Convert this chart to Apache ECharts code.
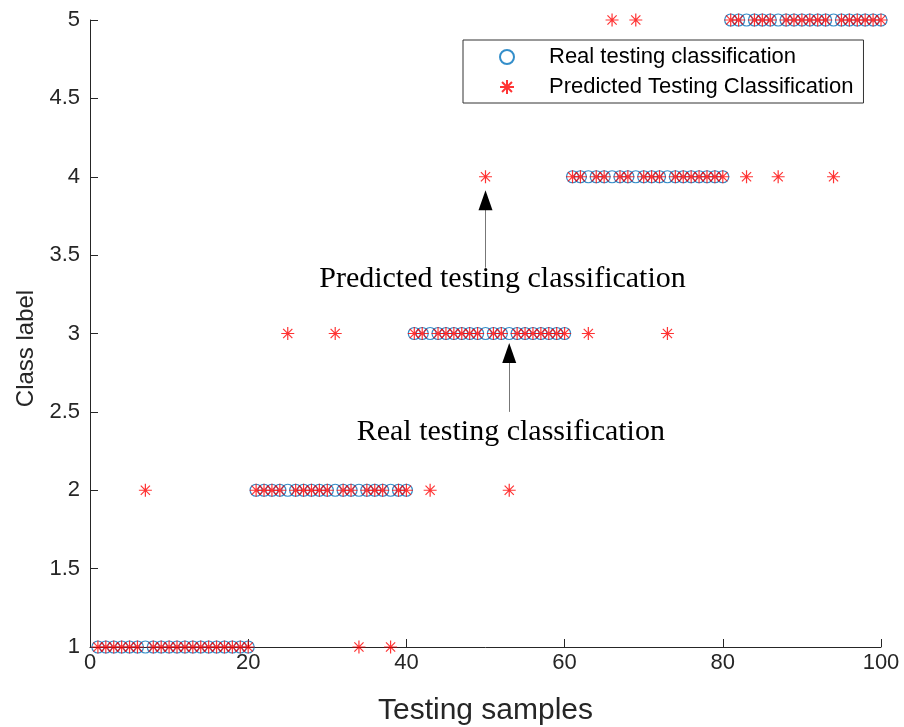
<!DOCTYPE html>
<html>
<head>
<meta charset="utf-8">
<script src="https://cdn.jsdelivr.net/npm/echarts@6/dist/echarts.min.js"></script>
<style>
  html, body { margin: 0; padding: 0; background: #fff; }
  #chart { width: 904px; height: 727px; }
</style>
</head>
<body>
<div id="chart"></div>
<script>
// sample numbers 1..100
var samples = [
  1,2,3,4,5,6,7,8,9,10, 11,12,13,14,15,16,17,18,19,20,
  21,22,23,24,25,26,27,28,29,30, 31,32,33,34,35,36,37,38,39,40,
  41,42,43,44,45,46,47,48,49,50, 51,52,53,54,55,56,57,58,59,60,
  61,62,63,64,65,66,67,68,69,70, 71,72,73,74,75,76,77,78,79,80,
  81,82,83,84,85,86,87,88,89,90, 91,92,93,94,95,96,97,98,99,100
];

var realClass = [
  1,1,1,1,1,1,1,1,1,1, 1,1,1,1,1,1,1,1,1,1,
  2,2,2,2,2,2,2,2,2,2, 2,2,2,2,2,2,2,2,2,2,
  3,3,3,3,3,3,3,3,3,3, 3,3,3,3,3,3,3,3,3,3,
  4,4,4,4,4,4,4,4,4,4, 4,4,4,4,4,4,4,4,4,4,
  5,5,5,5,5,5,5,5,5,5, 5,5,5,5,5,5,5,5,5,5
];

var predictedClass = [
  1,1,1,1,1,1,2,1,1,1, 1,1,1,1,1,1,1,1,1,1,
  2,2,2,2,3,2,2,2,2,2, 3,2,2,1,2,2,2,1,2,2,
  3,3,2,3,3,3,3,3,3,4, 3,3,2,3,3,3,3,3,3,3,
  4,4,3,4,4,5,4,4,5,4, 4,4,3,4,4,4,4,4,4,4,
  5,5,4,5,5,5,4,5,5,5, 5,5,5,4,5,5,5,5,5,5
];

var yTicks = ['1', '1.5', '2', '2.5', '3', '3.5', '4', '4.5', '5'];
var xTicks = ['0', '20', '40', '60', '80', '100'];

// annotation arrows: [x, yFrom, yHead, text, textX, textY]
var arrowPredicted = [50, 3.42, 3.85, 'Predicted testing classification', 52.15, 3.35];
var arrowReal = [53, 2.50, 2.876, 'Real testing classification', 53.2, 2.37];

var realData = [], predData = [];
for (var i = 0; i < samples.length; i++) {
  realData.push([samples[i], realClass[i]]);
  predData.push([samples[i], predictedClass[i]]);
}

var starPath = 'path://M5 0L5 10M0 5L10 5M1.46 1.46L8.54 8.54M8.54 1.46L1.46 8.54';
var headPath = 'path://M7 0L14 20L0 20Z';

function arrowLine(a) {
  return [{ coord: [a[0], a[1]] }, { coord: [a[0], a[2] - 0.06] }];
}
function arrowHead(a) {
  return { coord: [a[0], a[2]], symbol: headPath, symbolSize: [14, 20], itemStyle: { color: '#000' }, label: { show: false } };
}
function arrowText(a) {
  return {
    coord: [a[4], a[5]], symbolSize: 0,
    label: { show: true, position: 'inside', formatter: a[3], color: '#000', fontSize: 30, fontFamily: 'Liberation Serif, Times New Roman, serif' }
  };
}

var chart = echarts.init(document.getElementById('chart'));
var tickFont = 'Liberation Sans, Arial, sans-serif';

var option = {
  animation: false,
  backgroundColor: '#fff',
  grid: { left: 90, right: 23, top: 20, bottom: 80, outerBoundsMode: 'none' },
  legend: {
    orient: 'vertical',
    left: 463, top: 40,
    padding: [6, 10, 5, 36],
    itemGap: 8,
    itemWidth: 74,
    itemHeight: 14,
    borderColor: '#333',
    borderWidth: 1,
    backgroundColor: '#fff',
    textStyle: { fontSize: 22, color: '#000', fontFamily: tickFont },
    data: ['Real testing classification', 'Predicted Testing Classification']
  },
  xAxis: {
    type: 'value', min: 0, max: 100, interval: 20,
    name: 'Testing samples', nameLocation: 'middle', nameGap: 49,
    nameTextStyle: { fontSize: 30, color: '#262626', fontFamily: tickFont },
    axisLine: { lineStyle: { color: '#262626', width: 1 } },
    axisTick: { inside: true, length: 8, lineStyle: { color: '#262626' } },
    axisLabel: {
      fontSize: 22, color: '#262626', fontFamily: tickFont, margin: 5,
      formatter: function (v) { return xTicks[v / 20]; }
    },
    splitLine: { show: false }
  },
  yAxis: {
    type: 'value', min: 1, max: 5, interval: 0.5,
    name: 'Class label', nameLocation: 'middle', nameGap: 52,
    nameTextStyle: { fontSize: 24, color: '#262626', fontFamily: tickFont, padding: [0, 30, 0, 0] },
    axisLine: { show: true, lineStyle: { color: '#262626', width: 1 } },
    axisTick: { show: true, inside: true, length: 8, lineStyle: { color: '#262626' } },
    axisLabel: {
      fontSize: 22, color: '#262626', fontFamily: tickFont, margin: 10,
      formatter: function (v) { return yTicks[Math.round((v - 1) * 2)]; }
    },
    splitLine: { show: false }
  },
  series: [
    {
      name: 'Real testing classification',
      type: 'scatter',
      data: realData,
      symbol: 'circle',
      symbolSize: 12,
      itemStyle: { color: 'rgba(0,0,0,0)', borderColor: '#0072BD', borderWidth: 1.2 },
      emphasis: { disabled: true },
      z: 2
    },
    {
      name: 'Predicted Testing Classification',
      type: 'scatter',
      data: predData,
      symbol: starPath,
      symbolSize: 13,
      itemStyle: { color: '#FF0000', borderColor: '#FF0000', borderWidth: 1.2 },
      emphasis: { disabled: true },
      z: 3,
      markLine: {
        silent: true,
        symbol: ['none', 'none'],
        lineStyle: { color: '#777', width: 1, type: 'solid' },
        label: { show: false },
        data: [arrowLine(arrowPredicted), arrowLine(arrowReal)]
      },
      markPoint: {
        silent: true,
        data: [arrowHead(arrowPredicted), arrowHead(arrowReal), arrowText(arrowPredicted), arrowText(arrowReal)]
      }
    }
  ]
};

chart.setOption(option);
</script>
</body>
</html>
